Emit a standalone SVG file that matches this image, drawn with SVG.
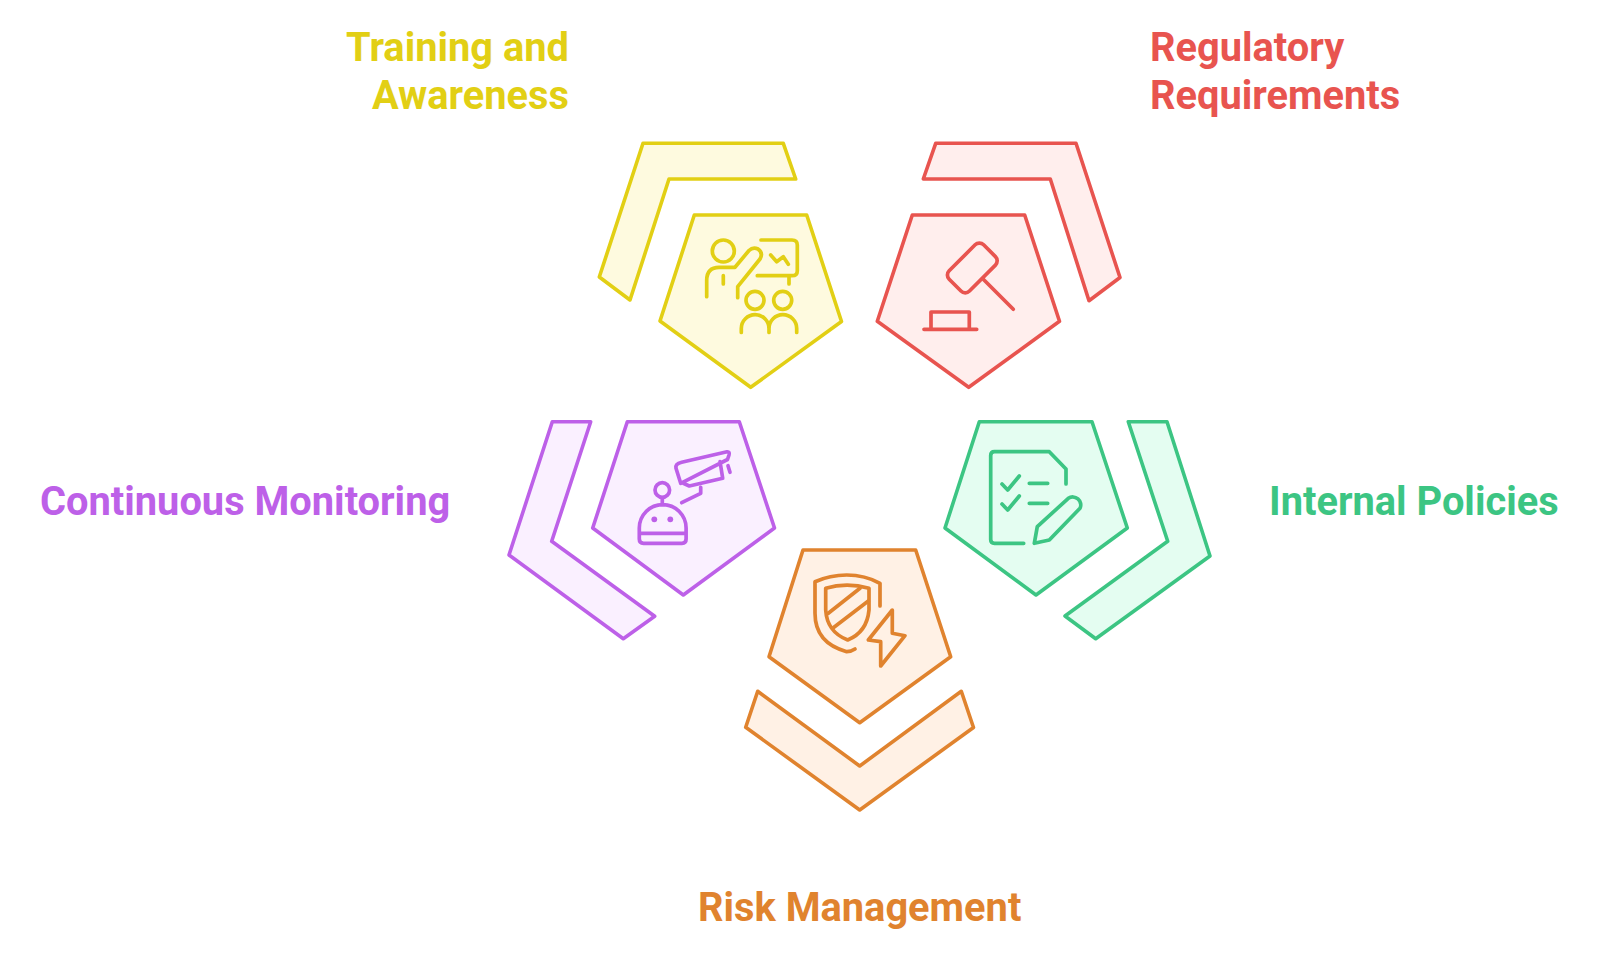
<svg xmlns="http://www.w3.org/2000/svg" width="1600" height="955" viewBox="0 0 1600 955">
<style>
text{font-family:Roboto,"Liberation Sans",sans-serif;font-weight:700;font-size:39.8px}
.s{stroke-width:3.6;stroke-linejoin:round;stroke-linecap:round}
.i{fill:none;stroke-width:3.7;stroke-linejoin:round;stroke-linecap:round}
.y{fill:#fefadf;stroke:#e2cf14}.r{fill:#ffeeed;stroke:#e8544f}.g{fill:#e4fdf1;stroke:#3cc583}.o{fill:#fff1e5;stroke:#e0832e}.p{fill:#faf0ff;stroke:#bd60e8}
.iy{stroke:#e2cf14}.ir{stroke:#e8544f}.ig{stroke:#3cc583}.io{stroke:#e0832e}.ip{stroke:#bd60e8}
</style>
<rect width="1600" height="955" fill="#fff"/>
<g id="connectors"></g>
<g id="training">
<polygon class="s y" points="643,143.3 783.3,143.3 795.7,179 669,179 630,300 599.3,277"/>
<polygon class="s y" points="694.3,215 806.7,215 841.5,321.5 750.7,387.3 660,321"/>
<g class="i iy">
<circle cx="723.3" cy="251" r="11"/>
<path d="M706.7 296.7V280Q707 267.3 719 267.3H735L749 250.5Q753 246.5 758 249Q763.5 253 760 259L737.7 286.7V297.7"/>
<path d="M723.3 275.7V284M761 240H792Q797.3 240 797.3 245V271Q797.3 275.7 792 275.7H757.3M789 276.7V284M770.7 255L776.7 261.7L783.3 256.7L788.3 264.3"/>
<circle cx="755" cy="300.3" r="9"/><circle cx="782.7" cy="300.3" r="9"/>
<path d="M741.3 332.5V328.5A13.85 13.85 0 0 1 769 328.5V332.5M769 328.5A13.85 13.85 0 0 1 796.7 328.5V332.5"/>
</g>
<text x="569" y="61" text-anchor="end" fill="#e2cf14">Training and</text>
<text x="569" y="109" text-anchor="end" fill="#e2cf14">Awareness</text>
</g>
<g id="regulatory">
<polygon class="s r" points="935.7,143.3 1076,143.3 1120,277.5 1089,300.7 1050.3,179 923.3,179"/>
<polygon class="s r" points="912.3,215 1024.7,215 1059.5,321.3 968.7,387.3 877.3,321.3"/>
<g class="i ir">
<rect x="948" y="253.6" width="48.7" height="28.7" rx="6" transform="rotate(-45 972.3 268)"/>
<path d="M983.3 279.3L1013.3 309.3M931 329.3V312H969.3V329.3M924 329.3H976.7"/>
</g>
<text x="1150" y="61" fill="#e8544f">Regulatory</text>
<text x="1150" y="109" fill="#e8544f">Requirements</text>
</g>
<g id="monitoring">
<polygon class="s p" points="552.3,421.7 590.7,421.7 551.7,541.3 654.7,616.3 623.3,638.7 509,555"/>
<polygon class="s p" points="627.3,421.7 739.3,421.7 774.5,528 683.3,595 592.7,528"/>
<g class="i ip">
<circle cx="662.3" cy="490" r="7.3"/>
<path d="M662.3 497.7V505M639.3 533.3V528A23.4 23.4 0 0 1 686.1 528V533.3H639.3V539Q639.3 543.3 643.5 543.3H682Q686.1 543.3 686.1 539V533.3"/>
<path d="M680.7 483.3L676 468.3Q675 463.8 681.7 462.3L727 451.8Q730 451.5 729 455L727.5 459.5L680.7 483.3M720 461.5L722.7 478.3L689.3 486L683.3 483.3M700.7 487.3V493.3L681.7 502.7M728 465.7L730 472.3"/>
</g>
<circle cx="654.3" cy="519.3" r="2.9" fill="#bd60e8"/><circle cx="670.3" cy="519.3" r="2.9" fill="#bd60e8"/>
<text x="40" y="515" fill="#bd60e8">Continuous Monitoring</text>
</g>
<g id="policies">
<polygon class="s g" points="1128.3,421.7 1167,421.7 1210,556 1095.7,638.7 1065,616 1167.7,541.3"/>
<polygon class="s g" points="979.3,421.7 1092,421.7 1127.3,528 1036,595 945,528"/>
<g class="i ig">
<path d="M1066 484V469L1049.3 451.7H994.5Q990.7 451.7 990.7 455.5V539.5Q990.7 543.3 994.5 543.3H1023.7"/>
<path d="M1002 484L1007.7 490L1019.3 476M1002 504L1007.7 510L1019.3 496M1029.3 483.3H1047.7M1029.3 503.3H1047.7"/>
<path d="M1034.3 543.3L1037.3 526.7L1068.3 498.3A8 8 0 0 1 1080 508.3L1049.3 540Z"/>
</g>
<text x="1269" y="515" fill="#3cc583">Internal Policies</text>
</g>
<g id="risk">
<polygon class="s o" points="757.7,691.3 859.7,766 961.3,691.3 973.5,727.5 859.7,810 745.7,727.3"/>
<polygon class="s o" points="803,550 915.7,550 950.7,656.7 859.7,722.7 769,656.7"/>
<g class="i io">
<path d="M880 606V583.3Q865 575 846.7 575Q830 575 815 581.7V613.3Q815 643 846.7 651.7Q851 651.7 855 649"/>
<path d="M825.7 588.3Q846.7 582 869 588.3V610Q867 632 847.7 640Q827 632 825.7 610Z"/>
<path d="M828.3 613.3L860 588.3M833.3 627.7L868.3 601"/>
<path d="M892.3 610L868.3 640L880.7 641.7V666L905 635.7L892.3 633.3Z"/>
</g>
<text x="859.7" y="921" text-anchor="middle" fill="#e0832e">Risk Management</text>
</g>
</svg>
